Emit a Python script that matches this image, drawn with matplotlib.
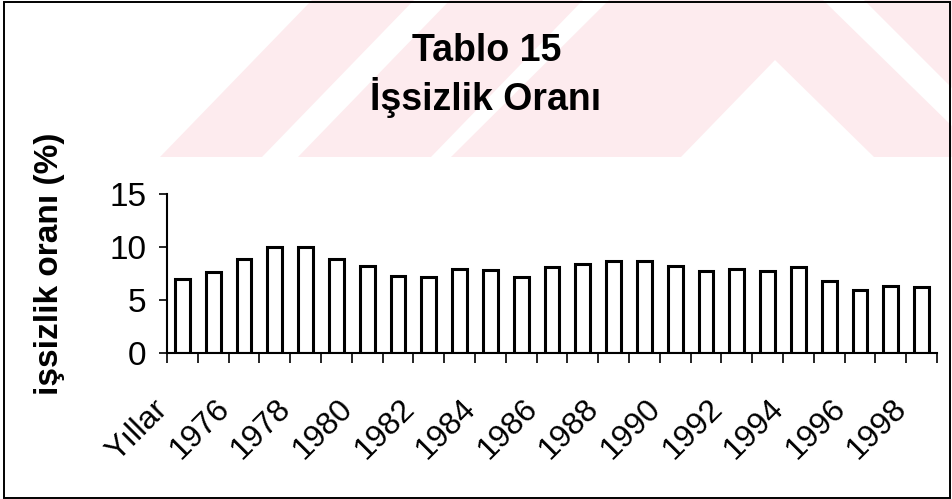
import numpy as np
import matplotlib
matplotlib.use("Agg")
import matplotlib.pyplot as plt
from matplotlib.patches import Polygon, Rectangle
from matplotlib.transforms import ScaledTranslation

# data
years = ["Yıllar"] + [str(y) for y in range(1975, 1999)]
rates = [7.0, 7.6, 8.9, 10.0, 10.0, 8.9, 8.2, 7.3, 7.2, 7.9, 7.8, 7.2,
         8.1, 8.4, 8.7, 8.7, 8.2, 7.7, 7.9, 7.7, 8.1, 6.8, 5.9, 6.3, 6.2]
yticks = [0, 5, 10, 15]

W, H = 953, 499
plt.rcParams['font.family'] = ['Liberation Sans', 'DejaVu Sans']

fig = plt.figure(figsize=(W / 100, H / 100), dpi=100)

# faint pink watermark behind the title (pixel coords of the scan)
wm = [
    [(160, 157), (262, 157), (414, 0), (312, 0)],
    [(298, 157), (431, 157), (583, 0), (450, 0)],
    [(451, 157), (681, 157), (775, 60), (874, 157), (953, 157), (953, 127), (823, 0), (609, 0)],
    [(864, 0), (953, 0), (953, 89)],
]
for poly in wm:
    pts = [(x / W, 1 - y / H) for x, y in poly]
    fig.patches.append(Polygon(pts, closed=True, transform=fig.transFigure,
                               facecolor='#fdebee', edgecolor='none', zorder=0))

# outer frame
fig.patches.append(Rectangle((0.004, 0.003), 0.993, 0.993, transform=fig.transFigure,
                             fill=False, edgecolor='black', linewidth=1.4, zorder=1))

ax = fig.add_axes([167 / W, 1 - 353 / H, 770 / W, 159 / H])
ax.patch.set_alpha(0)

x = np.arange(len(years))
ax.bar(x, rates, width=0.48, facecolor='white', edgecolor='black', linewidth=2.2)

ax.set_xlim(-0.5, len(years) - 0.5)
ax.set_ylim(0, 15)
ax.set_yticks(yticks)
ax.tick_params(axis='y', direction='out', length=6, width=1.2, pad=9, labelsize=24)

# category boundaries carry the tick marks, labels only every other year
ax.set_xticks(x[::2])
ax.set_xticklabels([years[i] for i in x[::2]], rotation=45, ha='right', va='center',
                   rotation_mode='anchor', fontsize=23)
ax.set_xticks(np.arange(-0.5, len(years)), minor=True)
ax.tick_params(axis='x', which='major', length=0, pad=37)
ax.tick_params(axis='x', which='minor', direction='out', length=7, width=1.2)
shift = ScaledTranslation(-19 / 100, 0, fig.dpi_scale_trans)
for lab in ax.get_xticklabels():
    lab.set_transform(lab.get_transform() + shift)

for s in ['top', 'right']:
    ax.spines[s].set_visible(False)
for s in ['left', 'bottom']:
    ax.spines[s].set_linewidth(1.5)

ax.set_ylabel("işsizlik oranı (%)", fontsize=24, fontweight='bold')
ax.yaxis.set_label_coords(-0.133, 0.56)

fig.text(487 / W, 1 - 61 / H, "Tablo 15", ha='center', va='baseline',
         fontsize=27, fontweight='bold')
fig.text(486 / W, 1 - 110.5 / H, "İşsizlik Oranı", ha='center', va='baseline',
         fontsize=27, fontweight='bold')

fig.savefig("out.png", dpi=100)
